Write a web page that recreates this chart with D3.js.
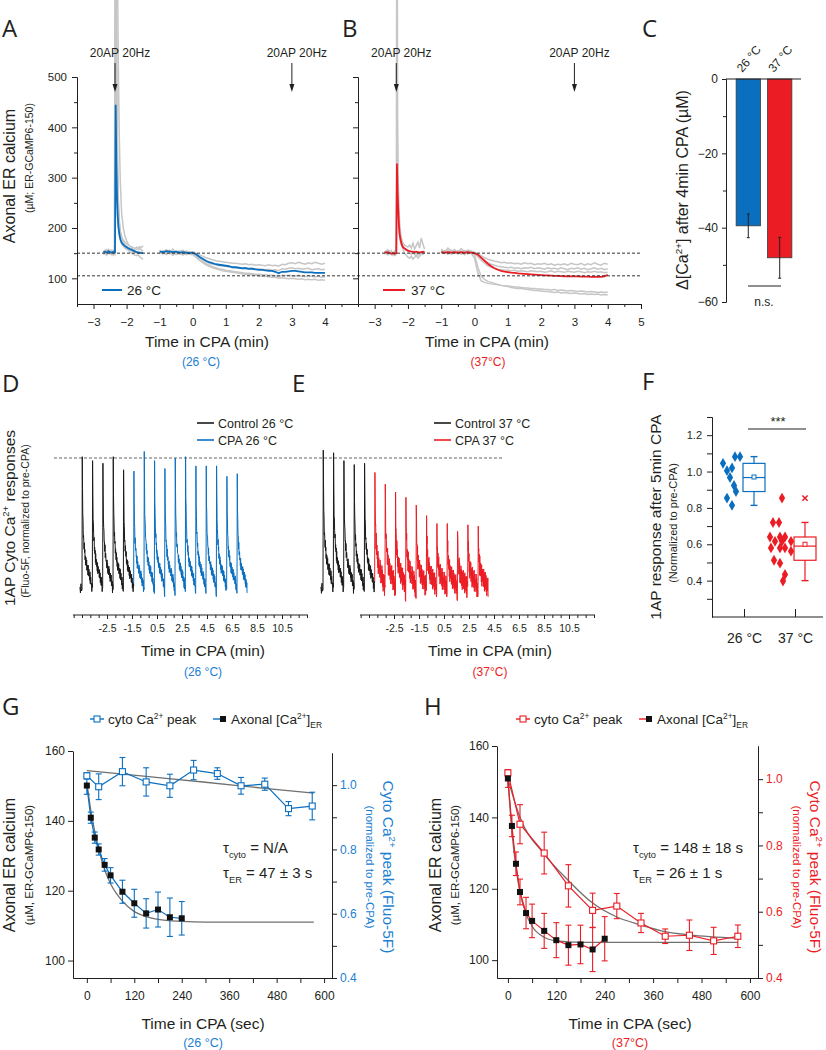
<!DOCTYPE html>
<html><head><meta charset="utf-8">
<script src="https://cdn.jsdelivr.net/npm/d3@7/dist/d3.min.js"></script>
<style>
html,body{margin:0;padding:0;background:#fff;}
svg{display:block;font-family:"Liberation Sans",Arial,sans-serif;}
</style></head>
<body><svg id="fig" width="826" height="1050" viewBox="0 0 826 1050"></svg>
<script>
// ===================== DATA =====================
// Panels A/B : time (min) samples
const abTimes1 = [-2.7,-2.65,-2.6,-2.55,-2.5,-2.45,-2.4,-2.37,-2.35,-2.33,-2.31,-2.29,-2.27,-2.25,-2.22,-2.19,-2.15,-2.1,-2.05,-2.0,-1.95,-1.9,-1.85,-1.8,-1.75,-1.7,-1.65,-1.6,-1.55,-1.5];
const abTimes2 = [-1,-0.9,-0.8,-0.7,-0.6,-0.5,-0.4,-0.3,-0.2,-0.1,0,0.1,0.2,0.3,0.4,0.5,0.6,0.7,0.8,0.9,1,1.1,1.2,1.3,1.4,1.5,1.6,1.7,1.8,1.9,2,2.1,2.2,2.3,2.4,2.5,2.6,2.7,2.8,2.9,3,3.1,3.2,3.3,3.4,3.5,3.6,3.7,3.8,3.9,4];
const abTickMajor = [-3,-2,-1,0,1,2,3,4];
const bTickMajor = [-3,-2,-1,0,1,2,3,4,5];
const abYTicks = [100,200,300,400,500];
const abDashLevels = [150,105];
const abStimTimes = [-2.35,3];
// Panel A (26 °C) mean and individual traces (µM)
const aMean1 = [152,153,151,154,152,151,153,152,152,445,330,262,225,205,188,178,171,167,164,162,160,158,157,155,154,152,151,151,150,150];
const aMean2 = [153,152,154,153,152,153,151,152,151,150,151,148,143,139,135,132,130,128,127,126,125,124,122,122,121,120,120,119,119,118,117,117,116,115,115,113,110,113,113,114,115,115,114,113,112,112,112,111,111,111,111];
const aGray1 = [
 [150,156,148,157,150,147,155,149,151,980,700,450,330,260,215,195,183,176,172,168,166,164,163,161,160,158,157,159,156,155],
 [154,149,155,150,156,152,149,154,700,900,610,400,300,240,210,192,180,172,166,160,156,152,150,148,146,145,147,143,140,138],
 [147,151,146,152,148,150,146,151,149,1300,1000,800,680,520,380,290,230,200,184,175,168,164,160,157,158,162,160,163,161,165],
 [155,152,157,153,154,156,151,156,154,560,360,280,230,200,186,176,168,164,160,158,156,155,154,153,152,151,153,150,152,151]
];
const aGray2 = [
 [156,150,157,152,158,151,155,149,154,152,153,150,147,144,141,139,137,135,134,133,132,131,130,130,129,128,129,127,128,126,127,126,125,127,125,126,124,128,127,130,131,129,132,130,128,131,129,132,130,128,130],
 [151,155,150,156,149,154,152,156,150,153,149,146,141,137,133,130,128,127,125,125,124,123,122,121,121,120,121,119,120,118,119,118,117,118,116,117,115,119,118,120,121,119,120,118,119,120,117,118,119,117,118],
 [149,153,147,151,146,152,148,150,147,149,148,144,138,133,129,126,123,121,119,118,116,115,114,113,112,111,110,110,109,108,108,107,107,106,106,105,103,106,105,106,105,104,106,104,103,105,104,103,104,102,103],
 [152,148,154,149,153,147,151,146,150,148,147,142,136,131,127,124,121,119,117,115,114,113,112,111,110,109,108,107,107,106,105,104,104,103,102,102,100,101,100,99,100,99,98,99,97,98,97,98,96,97,96]
];
// Panel B (37 °C)
const bMean1 = [152,151,152,150,149,150,149,150,150,328,270,235,205,188,176,168,162,159,157,155,154,153,153,152,153,152,151,152,153,152];
const bMean2 = [152,151,152,151,152,151,152,151,152,151,150,147,141,135,129,124,120,117,115,113.5,112.5,111.5,111,110,109.5,109,108.5,108,107.5,107,106.5,106,106,105.5,105,105,104.5,104,104.5,104,104,104,103.5,103.5,103.5,103,103,103.5,103,104,107];
const bGray1 = [
 [150,155,148,153,147,151,146,150,149,1100,420,290,240,210,190,178,170,166,164,162,166,160,170,158,165,172,160,180,168,158],
 [154,149,156,150,155,149,154,148,151,300,255,225,200,185,172,164,158,150,146,142,140,144,138,142,146,140,144,148,152,150],
 [148,152,147,154,150,146,152,147,150,340,290,250,215,195,180,170,164,160,156,153,150,148,152,147,150,146,149,152,148,150]
];
const bGray2 = [
 [158,152,160,154,157,151,159,153,156,154,152,149,145,141,138,136,134,133,131,132,130,131,129,130,128,131,129,130,127,129,128,130,127,129,126,128,127,129,126,130,128,127,130,126,129,127,131,128,126,130,128],
 [150,155,149,156,151,154,148,155,150,152,151,146,140,135,131,128,126,124,123,122,121,122,120,121,119,121,120,122,119,121,120,118,121,119,120,118,121,119,117,120,119,121,118,120,117,119,121,118,120,117,119],
 [155,150,153,148,154,149,152,147,153,150,149,143,136,130,125,122,120,118,117,116,116,115,116,114,115,114,113,115,114,113,114,112,113,115,112,114,113,112,114,113,112,114,113,111,113,112,114,112,113,111,112],
 [153,149,155,150,152,148,154,149,151,150,140,110,95,92,90,89,88,87,86,85,85,84,83,83,82,81,81,80,80,79,79,78,78,77,78,76,77,76,75,76,75,74,75,74,73,74,73,72,73,72,73],
 [150,154,148,153,149,155,150,152,148,153,146,122,104,98,94,92,90,88,86,85,84,82,81,80,80,79,78,77,76,76,75,74,74,73,72,73,71,72,71,70,71,70,69,70,68,69,68,69,67,68,67]
];
// Panel C
const cCats = ["26 °C","37 °C"];
const cValues = [-39.5,-48.1];
const cSem = [3.2,5.5];
const cTicks = [0,-20,-40,-60];
// Panels D/E : normalized 1AP peak amplitudes
const dAmpControl = [1.01,0.98,0.96,1.01,0.91];
const dAmpCPA = [0.90,1.05,0.98,0.92,1.00,1.01,0.94,0.94,0.94,0.86,0.88];
const eAmpControl = [1.06,1.04,0.98,0.95,0.96];
const eAmpCPA = [0.89,0.80,0.74,0.70,0.64,0.56,0.50,0.50,0.44,0.49,0.48];
// average transient shape (fraction of peak) over one inter-stimulus interval
const spikeProfile = [-0.02,1.0,0.72,0.58,0.49,0.43,0.39,0.36,0.33,0.31,0.29,0.27,0.25,0.235,0.22,0.21,0.2,0.19,0.18,0.17,0.165,0.16,0.15,0.145,0.14,0.13,0.125,0.12,0.11,0.1,0.095,0.09,0.08,0.07,0.06,0.05,0.04,0.03,0.01,0.0];
const traceNoise = [0.015,-0.03,0.04,-0.015,0.03,-0.04,0.015,0.0,-0.03,0.04,-0.015,0.03,-0.03,0.015,-0.04,0.03,0.0,-0.015,0.04,-0.03,0.015,-0.015,0.03,-0.04,0.04,-0.03,0.0,0.03,-0.015,0.015,-0.03,0.04,-0.04,0.015,0.03,-0.015,0.0];
const deTickLabels = ["-2.5","-1.5","0.5","2.5","4.5","6.5","8.5","10.5"];
// Panel F
const fCats = ["26 °C","37 °C"];
const f26Values = [1.045,1.005,1.02,0.967,0.923,0.89,0.854,0.814,1.082,1.082];
const f26Jitter = [-21,-17,-12,-14,-10,-8,-17,-12,-9,-4];
const f37Values = [0.854,0.72,0.72,0.64,0.64,0.64,0.616,0.616,0.616,0.58,0.58,0.58,0.562,0.512,0.496,0.434,0.398];
const f37Jitter = [-13,-22,-16,-25,-15,-10,-20,-13,-4,-24,-15,-10,-4,-21,-15,-10,-12];
const f26Box = [0.814,0.89,0.967,1.045,1.082];  // min,q1,median,q3,max
const f37Box = [0.40,0.512,0.59,0.64,0.72];
const fMeans = [0.97,0.60];
const f37Outliers = [0.854];
const fYTicks = [0.4,0.6,0.8,1.0,1.2];
// Panels G/H : time (s)
const ghErTimes = [0,10,20,30,45,60,90,120,150,180,210,240];
const ghCytoTimes = [0,30,90,150,210,270,330,390,450,510,570];
const gErValues = [150.1,140.9,135.2,131.8,127.4,124.4,119.7,116.4,113.5,114.6,112.4,112.1];
const gErSem = [2.5,1.6,1.6,1.6,1.8,2.2,3.3,4,4.2,5,5.5,4.8];
const gCytoValues = [1.029,0.995,1.042,1.01,0.998,1.047,1.036,0.998,1.003,0.927,0.935];
const gCytoSem = [0.01,0.04,0.044,0.044,0.036,0.03,0.018,0.026,0.019,0.022,0.043];
const hErValues = [150.9,137.6,127.0,119.1,113.2,111.0,108.2,105.6,104.2,104.4,103.0,106.0];
const hErSem = [2.5,3,3.3,3.6,4.4,4.7,4.9,4.9,5.6,5.4,6.2,6.2];
const hCytoValues = [1.019,0.864,0.777,0.678,0.604,0.617,0.566,0.526,0.529,0.512,0.526];
const hCytoSem = [0.01,0.059,0.063,0.064,0.052,0.038,0.029,0.022,0.046,0.041,0.034];
// fitted curves
const gErFitT = [0,10,20,30,45,60,90,120,150,180,240,300,400,574];
const gErFitV = [151,143,137,132,126,122,117,114,112.6,111.8,111.2,111,111,111];
const gCytoFitT = [0,150,300,450,574];
const gCytoFitV = [1.045,1.027,1.009,0.99,0.975];
const hErFitT = [0,10,20,30,45,60,90,120,180,240,400,570];
const hErFitV = [151,136,126,119,113,109.5,106.4,105.4,105,105,105,105];
const hCytoFitT = [0,30,90,150,210,270,330,390,450,570];
const hCytoFitV = [1.0,0.885,0.774,0.694,0.626,0.584,0.56,0.54,0.53,0.52];
const ghXTicks = [0,120,240,360,480,600];
const ghXMinor = [60,180,300,420,540];
const ghYLTicks = [100,120,140,160];
const ghYRTicks = [0.4,0.6,0.8,1.0];
const ghYRMinor = [0.5,0.7,0.9];

// ===================== DRAWING =====================
const svg = d3.select("#fig");
const BLUE = "#0b6fc0", BLUE_T = "#1b80d2", RED = "#ec1c24", GRAY = "#c6c6c6", INK = "#231f20", FIT = "#707070";
const FONT = '"Liberation Sans", Arial, sans-serif';
const LETTER_FONT = '"Open Sans", "Noto Sans", sans-serif';

function styleAxis(g, opt = {}) {
  g.attr("font-family", FONT);
  g.select(".domain").attr("stroke", INK).attr("stroke-width", 1);
  g.selectAll(".tick line").attr("stroke", INK).attr("stroke-width", 1);
  g.selectAll(".tick text").attr("fill", opt.color || INK).attr("font-size", opt.fs || 11.5).attr("font-family", FONT);
  if (opt.noDomain) g.select(".domain").remove();
  return g;
}
function addAxis(gen, tx, ty, opt) {
  return styleAxis(svg.append("g").attr("transform", `translate(${tx},${ty})`).call(gen), opt);
}
function txt(x, y, s, o = {}) {
  const t = svg.append("text").attr("x", x).attr("y", y).attr("font-family", o.font || FONT)
    .attr("font-size", o.fs || 12).attr("fill", o.color || INK).attr("text-anchor", o.anchor || "start");
  if (o.rot !== undefined) t.attr("transform", `rotate(${o.rot},${x},${y})`);
  if (o.parts) rich(t, o.parts, o.fs || 12); else t.text(s);
  return t;
}
function rich(t, parts, fs) {
  let shift = 0;
  parts.forEach(p => {
    const target = p.sup ? -fs * 0.38 : p.sub ? fs * 0.3 : 0;
    t.append("tspan").attr("dy", target - shift).attr("font-size", (p.sup || p.sub) ? fs * 0.62 : fs).text(p.t);
    shift = target;
  });
}
function letter(x, y, s) { txt(x, y, s, { fs: 24, font: LETTER_FONT }); }

// ---------- Panels A & B ----------
const xA = d3.scaleLinear().domain([-3.5, 5]).range([77, 358]);
const xB = d3.scaleLinear().domain([-3.5, 5]).range([358, 641]);
const yAB = d3.scaleLinear().domain([50, 500]).range([303.5, 77]);
const halfTicks = [-3.5,-2.5,-1.5,-0.5,0.5,1.5,2.5,3.5,4.5];
const yMinorAB = [150,250,350,450];

function drawTraces(x, grays1, grays2, mean1, mean2, col) {
  const line = d3.line().x(d => x(d[0])).y(d => yAB(d[1]));
  const g = svg.append("g");
  grays1.forEach(v => g.append("path").attr("d", line(d3.zip(abTimes1, v))).attr("fill", "none").attr("stroke", GRAY).attr("stroke-width", 1.5));
  grays2.forEach(v => g.append("path").attr("d", line(d3.zip(abTimes2, v))).attr("fill", "none").attr("stroke", GRAY).attr("stroke-width", 1.5));
  [mean1, mean2].forEach((v, i) => g.append("path").attr("d", line(d3.zip(i ? abTimes2 : abTimes1, v)))
    .attr("fill", "none").attr("stroke", col).attr("stroke-width", 1.8));
}
drawTraces(xA, aGray1, aGray2, aMean1, aMean2, BLUE);
drawTraces(xB, bGray1, bGray2, bMean1, bMean2, RED);

// dashed reference levels
abDashLevels.forEach(v => svg.append("line").attr("x1", xA(-3.5)).attr("x2", xB(5)).attr("y1", yAB(v)).attr("y2", yAB(v))
  .attr("stroke", "#333").attr("stroke-width", 1).attr("stroke-dasharray", "3,2"));

// axes A
addAxis(d3.axisLeft(yAB).tickValues(abYTicks).tickSize(5).tickPadding(5).tickSizeOuter(0), 77, 0);
addAxis(d3.axisLeft(yAB).tickValues(yMinorAB).tickSize(3).tickFormat("").tickSizeOuter(0), 77, 0);
addAxis(d3.axisBottom(xA).tickValues(abTickMajor).tickSize(5).tickPadding(9).tickFormat(d3.format("d")).tickSizeOuter(0), 0, 304);
addAxis(d3.axisBottom(xA).tickValues(halfTicks).tickSize(3).tickFormat("").tickSizeOuter(0), 0, 304);
// axes B
addAxis(d3.axisLeft(yAB).tickValues(abYTicks).tickSize(5).tickFormat("").tickSizeOuter(0), 358, 0);
addAxis(d3.axisLeft(yAB).tickValues(yMinorAB).tickSize(3).tickFormat("").tickSizeOuter(0), 358, 0);
addAxis(d3.axisBottom(xB).tickValues(bTickMajor).tickSize(5).tickPadding(9).tickFormat(d3.format("d")).tickSizeOuter(0), 0, 304);
addAxis(d3.axisBottom(xB).tickValues(halfTicks).tickSize(3).tickFormat("").tickSizeOuter(0), 0, 304);

// stimulation arrows
[xA, xB].forEach(x => abStimTimes.forEach(t => {
  const px = x(t);
  svg.append("line").attr("x1", px).attr("x2", px).attr("y1", 63).attr("y2", 85).attr("stroke", INK).attr("stroke-width", 1);
  svg.append("path").attr("d", `M${px - 2.5},84 L${px + 2.5},84 L${px},92 Z`).attr("fill", INK);
  txt(px + 5, 57, "20AP 20Hz", { fs: 12, anchor: "middle" });
}));

// legends A/B
svg.append("line").attr("x1", 102).attr("x2", 122).attr("y1", 290).attr("y2", 290).attr("stroke", BLUE).attr("stroke-width", 2);
txt(127, 295, "26 °C", { fs: 13.5 });
svg.append("line").attr("x1", 383).attr("x2", 405).attr("y1", 290).attr("y2", 290).attr("stroke", RED).attr("stroke-width", 2);
txt(411, 295, "37 °C", { fs: 13.5 });

// titles A/B
txt(15, 176, "Axonal ER calcium", { fs: 16, rot: -90, anchor: "middle" });
txt(33, 158, "(µM; ER-GCaMP6-150)", { fs: 10.5, rot: -90, anchor: "middle" });
txt(207, 347, "Time in CPA (min)", { fs: 15.5, anchor: "middle" });
txt(201, 366, "(26 °C)", { fs: 12, anchor: "middle", color: BLUE_T });
txt(487, 347, "Time in CPA (min)", { fs: 15.5, anchor: "middle" });
txt(488, 366, "(37°C)", { fs: 12, anchor: "middle", color: RED });
letter(2, 37, "A");
letter(342, 37, "B");

// ---------- Panel C ----------
const yC = d3.scaleLinear().domain([-60, 0]).range([302, 79]);
const xC = d3.scaleBand().domain(cCats).range([733, 795]).paddingInner(0.226).paddingOuter(0.1);
const cColors = [BLUE, RED];
cCats.forEach((c, i) => {
  svg.append("rect").attr("x", xC(c)).attr("y", yC(0)).attr("width", xC.bandwidth()).attr("height", yC(cValues[i]) - yC(0))
    .attr("fill", cColors[i]).attr("stroke", "#3a3a3a").attr("stroke-width", 0.8);
  const cx = xC(c) + xC.bandwidth() / 2;
  svg.append("line").attr("x1", cx).attr("x2", cx).attr("y1", yC(cValues[i] + cSem[i])).attr("y2", yC(cValues[i] - cSem[i])).attr("stroke", INK).attr("stroke-width", 1);
  [cValues[i] + cSem[i], cValues[i] - cSem[i]].forEach(v => svg.append("line").attr("x1", cx - 1.5).attr("x2", cx + 1.5).attr("y1", yC(v)).attr("y2", yC(v)).attr("stroke", INK));
  txt(cx - 6, 73, c, { fs: 12, rot: -50 });
});
addAxis(d3.axisLeft(yC).tickValues(cTicks).tickSize(4).tickPadding(4).tickSizeOuter(0), 726, 0, { fs: 12 });
addAxis(d3.axisLeft(yC).tickValues([-10, -30, -50]).tickSize(3).tickFormat("").tickSizeOuter(0), 726, 0);
svg.append("line").attr("x1", 726).attr("x2", 801).attr("y1", yC(0)).attr("y2", yC(0)).attr("stroke", INK).attr("stroke-width", 1);
svg.append("line").attr("x1", 748).attr("x2", 781).attr("y1", 286).attr("y2", 286).attr("stroke", INK).attr("stroke-width", 1);
txt(764, 306, "n.s.", { fs: 12, anchor: "middle" });
txt(688, 190, "", { fs: 16, rot: -90, anchor: "middle", parts: [{ t: "Δ[Ca" }, { t: "2+", sup: true }, { t: "] after 4min CPA (µM)" }] });
letter(642, 37, "C");

// ---------- Panels D & E ----------
const yDE = d3.scaleLinear().domain([0, 1]).range([589, 458]);
function spikePoints(amps, gains) {
  const pts = [];
  [-0.2, -0.15, -0.1, -0.05].forEach((t, j) => pts.push([t, traceNoise[j] * gains[0]]));
  const n = spikeProfile.length;
  amps.forEach((a, k) => spikeProfile.forEach((p, j) => {
    const nz = j === 1 ? 0 : traceNoise[(k * 11 + j) % traceNoise.length] * gains[k];
    pts.push([k + j / n, a * p + nz]);
  }));
  return pts;
}
function drawSpikes(xs, ctrl, cpa, gainCtrl, gainCpa, col) {
  const amps = ctrl.concat(cpa);
  const gains = amps.map((a, k) => k < ctrl.length ? gainCtrl : gainCpa);
  const pts = spikePoints(amps, gains);
  const line = d3.line().x(d => xs(d[0])).y(d => yDE(d[1]));
  const nC = ctrl.length;
  svg.append("path").attr("d", line(pts.filter(d => d[0] >= nC))).attr("fill", "none").attr("stroke", col).attr("stroke-width", 1).attr("stroke-linejoin", "round");
  svg.append("path").attr("d", line(pts.filter(d => d[0] <= nC))).attr("fill", "none").attr("stroke", "#1a1a1a").attr("stroke-width", 1).attr("stroke-linejoin", "round");
}
const xDs = d3.scaleLinear().domain([0, 15]).range([82, 237]);
const xEs = d3.scaleLinear().domain([0, 15]).range([323, 478]);
svg.append("line").attr("x1", 54).attr("x2", 502).attr("y1", yDE(1)).attr("y2", yDE(1)).attr("stroke", "#666").attr("stroke-width", 1).attr("stroke-dasharray", "3,2");
drawSpikes(xDs, dAmpControl, dAmpCPA, 1, 1, BLUE);
drawSpikes(xEs, eAmpControl, eAmpCPA, 1.1, 2, RED);

function deAxis(x0) {
  const xl = d3.scalePoint().domain(deTickLabels).range([x0, x0 + 175]);
  const xi = d3.scaleLinear().domain([0, 7]).range([x0, x0 + 175]);
  const minor = d3.range(-4, 25).map(k => k / 3);
  const g1 = svg.append("g").attr("transform", "translate(0,615)").call(d3.axisBottom(xi).tickValues(minor).tickSize(3).tickFormat("").tickSizeOuter(0));
  styleAxis(g1);
  g1.select(".domain").attr("d", `M${xi(-1.36)},0H${xi(8.04)}`);
  addAxis(d3.axisBottom(xl).tickSize(4).tickPadding(6).tickSizeOuter(0), 0, 615, { fs: 10.5, noDomain: true });
}
deAxis(107);
deAxis(394);
txt(203, 656, "Time in CPA (min)", { fs: 15.5, anchor: "middle" });
txt(203, 676, "(26 °C)", { fs: 12, anchor: "middle", color: BLUE_T });
txt(490, 656, "Time in CPA (min)", { fs: 15.5, anchor: "middle" });
txt(490, 676, "(37°C)", { fs: 12, anchor: "middle", color: RED });
txt(15, 518, "", { fs: 15.5, rot: -90, anchor: "middle", parts: [{ t: "1AP Cyto Ca" }, { t: "2+", sup: true }, { t: " responses" }] });
txt(29, 521, "(Fluo-5F, normalized to pre-CPA)", { fs: 10.5, rot: -90, anchor: "middle" });
// legends D/E
[[197, "Control 26 °C", "CPA 26 °C", BLUE], [434, "Control 37 °C", "CPA 37 °C", RED]].forEach(([x, a, b, col]) => {
  svg.append("line").attr("x1", x).attr("x2", x + 17).attr("y1", 423).attr("y2", 423).attr("stroke", "#1a1a1a").attr("stroke-width", 1.6);
  txt(x + 21, 427.5, a, { fs: 12.5 });
  svg.append("line").attr("x1", x).attr("x2", x + 17).attr("y1", 440).attr("y2", 440).attr("stroke", col).attr("stroke-width", 1.6);
  txt(x + 21, 444.5, b, { fs: 12.5 });
});
letter(2, 392, "D");
letter(292, 392, "E");

// ---------- Panel F ----------
const yF = d3.scaleLinear().domain([0.2, 1.3]).range([617, 417]);
const xF = d3.scalePoint().domain(fCats).range([744, 795]);
addAxis(d3.axisLeft(yF).tickValues(fYTicks).tickSize(5).tickPadding(5).tickFormat(d3.format(".1f")).tickSizeOuter(0), 712, 0, { fs: 11 });
addAxis(d3.axisLeft(yF).tickValues([0.3, 0.5, 0.7, 0.9, 1.1, 1.3]).tickSize(5).tickFormat("").tickSizeOuter(0), 712, 0);
{
  const g = addAxis(d3.axisBottom(xF).tickSize(-8).tickPadding(16).tickSizeOuter(0), 0, 617, { fs: 14 });
  g.select(".domain").attr("d", "M712,0H823");
}
const diamond = d3.symbol().type(d3.symbolDiamond).size(34);
function fGroup(cat, vals, jit, box, mean, col, outliers) {
  const cx = xF(cat);
  vals.forEach((v, i) => svg.append("path").attr("d", diamond()).attr("transform", `translate(${cx + jit[i]},${yF(v)})`).attr("fill", col));
  const bx = cx + 10, hw = 11;
  svg.append("rect").attr("x", bx - hw).attr("y", yF(box[3])).attr("width", 2 * hw).attr("height", yF(box[1]) - yF(box[3]))
    .attr("fill", "none").attr("stroke", col).attr("stroke-width", 1.2);
  svg.append("line").attr("x1", bx - hw).attr("x2", bx + hw).attr("y1", yF(box[2])).attr("y2", yF(box[2])).attr("stroke", col).attr("stroke-width", 1.2);
  svg.append("line").attr("x1", bx).attr("x2", bx).attr("y1", yF(box[3])).attr("y2", yF(box[4])).attr("stroke", col).attr("stroke-width", 1.2);
  svg.append("line").attr("x1", bx).attr("x2", bx).attr("y1", yF(box[1])).attr("y2", yF(box[0])).attr("stroke", col).attr("stroke-width", 1.2);
  [box[0], box[4]].forEach(v => svg.append("line").attr("x1", bx - 3.5).attr("x2", bx + 3.5).attr("y1", yF(v)).attr("y2", yF(v)).attr("stroke", col).attr("stroke-width", 1.4));
  svg.append("rect").attr("x", bx - 2).attr("y", yF(mean) - 2).attr("width", 4).attr("height", 4).attr("fill", "#fff").attr("stroke", col).attr("stroke-width", 1);
  (outliers || []).forEach(v => svg.append("path").attr("d", d3.symbol().type(d3.symbolX).size(20)()).attr("transform", `translate(${bx},${yF(v)})`).attr("stroke", col).attr("stroke-width", 1.5));
}
fGroup(fCats[0], f26Values, f26Jitter, f26Box, fMeans[0], BLUE, []);
fGroup(fCats[1], f37Values, f37Jitter, f37Box, fMeans[1], RED, f37Outliers);
svg.append("line").attr("x1", 748).attr("x2", 806).attr("y1", 429).attr("y2", 429).attr("stroke", INK).attr("stroke-width", 1);
txt(778, 426, "***", { fs: 13, anchor: "middle" });
txt(661, 517, "1AP response after 5min CPA", { fs: 15.5, rot: -90, anchor: "middle" });
txt(677, 523, "(Normalized to pre-CPA)", { fs: 11, rot: -90, anchor: "middle" });
letter(642, 390, "F");

// ---------- Panels G & H ----------
function ghPanel(o) {
  const x = d3.scaleLinear().domain(o.xDom).range([o.x0, o.x1]);
  const yL = d3.scaleLinear().domain([95, 160]).range([978, o.yTop]);
  const yR = d3.scaleLinear().domain([0.4, 1.1]).range([978, o.yTopR]);
  const col = o.col;
  const lineL = d3.line().x(d => x(d[0])).y(d => yL(d[1]));
  const lineR = d3.line().x(d => x(d[0])).y(d => yR(d[1]));
  const fitL = d3.line().curve(d3.curveMonotoneX).x(d => x(d[0])).y(d => yL(d[1]));
  const fitR = d3.line().curve(d3.curveMonotoneX).x(d => x(d[0])).y(d => yR(d[1]));
  // axes
  addAxis(d3.axisLeft(yL).tickValues(ghYLTicks).tickSize(5).tickPadding(3).tickSizeOuter(0), o.x0, 0, { fs: 12 });
  addAxis(d3.axisRight(yR).tickValues(ghYRTicks).tickSize(5).tickPadding(3).tickFormat(d3.format(".1f")).tickSizeOuter(0), o.x1, 0, { fs: 12, color: o.tcol });
  addAxis(d3.axisRight(yR).tickValues(ghYRMinor).tickSize(5).tickFormat("").tickSizeOuter(0), o.x1, 0);
  addAxis(d3.axisBottom(x).tickValues(ghXTicks).tickSize(5).tickPadding(8).tickSizeOuter(0), 0, 978, { fs: 12 });
  addAxis(d3.axisBottom(x).tickValues(ghXMinor).tickSize(5).tickFormat("").tickSizeOuter(0), 0, 978);
  // fits
  svg.append("path").attr("d", fitR(d3.zip(o.cyFitT, o.cyFitV))).attr("fill", "none").attr("stroke", FIT).attr("stroke-width", 1.3);
  svg.append("path").attr("d", fitL(d3.zip(o.erFitT, o.erFitV))).attr("fill", "none").attr("stroke", FIT).attr("stroke-width", 1.3);
  // data lines
  svg.append("path").attr("d", lineR(d3.zip(ghCytoTimes, o.cyV))).attr("fill", "none").attr("stroke", col).attr("stroke-width", 1.2);
  svg.append("path").attr("d", lineL(d3.zip(ghErTimes, o.erV))).attr("fill", "none").attr("stroke", col).attr("stroke-width", 1.2);
  // error bars
  function ebar(px, y1, y2) {
    svg.append("line").attr("x1", px).attr("x2", px).attr("y1", y1).attr("y2", y2).attr("stroke", col).attr("stroke-width", 1.1);
    [y1, y2].forEach(yy => svg.append("line").attr("x1", px - 3).attr("x2", px + 3).attr("y1", yy).attr("y2", yy).attr("stroke", col).attr("stroke-width", 1.1));
  }
  ghCytoTimes.forEach((t, i) => ebar(x(t), yR(o.cyV[i] + o.cyE[i]), yR(o.cyV[i] - o.cyE[i])));
  ghErTimes.forEach((t, i) => ebar(x(t), yL(o.erV[i] + o.erE[i]), yL(o.erV[i] - o.erE[i])));
  // markers
  ghCytoTimes.forEach((t, i) => svg.append("rect").attr("x", x(t) - 3).attr("y", yR(o.cyV[i]) - 3).attr("width", 6).attr("height", 6)
    .attr("fill", "#fff").attr("stroke", col).attr("stroke-width", 1.1));
  ghErTimes.forEach((t, i) => svg.append("rect").attr("x", x(t) - 3).attr("y", yL(o.erV[i]) - 3).attr("width", 6).attr("height", 6).attr("fill", "#111"));
  // legend
  const lx = o.legX;
  svg.append("line").attr("x1", lx).attr("x2", lx + 14).attr("y1", 719).attr("y2", 719).attr("stroke", col).attr("stroke-width", 1.4);
  svg.append("rect").attr("x", lx + 4).attr("y", 716).attr("width", 6).attr("height", 6).attr("fill", "#fff").attr("stroke", col).attr("stroke-width", 1.1);
  txt(lx + 18, 724, "", { fs: 13.5, parts: [{ t: "cyto Ca" }, { t: "2+", sup: true }, { t: " peak" }] });
  const lx2 = o.legX2;
  svg.append("line").attr("x1", lx2).attr("x2", lx2 + 13).attr("y1", 719).attr("y2", 719).attr("stroke", col).attr("stroke-width", 1.4);
  svg.append("rect").attr("x", lx2 + 7).attr("y", 716).attr("width", 6).attr("height", 6).attr("fill", "#111");
  txt(lx2 + 18, 724, "", { fs: 13.5, parts: [{ t: "Axonal [Ca" }, { t: "2+", sup: true }, { t: "]" }, { t: "ER", sub: true }] });
  // annotations
  txt(o.annX, 853, "", { fs: 15, parts: [{ t: "τ" }, { t: "cyto", sub: true }, { t: " = " + o.tauCyto }] });
  txt(o.annX, 878, "", { fs: 15, parts: [{ t: "τ" }, { t: "ER", sub: true }, { t: " = " + o.tauEr }] });
  // axis titles
  txt(o.lTitleX, 865, "Axonal ER calcium", { fs: 16, rot: -90, anchor: "middle" });
  txt(o.lTitleX + 18, 865, "(µM, ER-GCaMP6-150)", { fs: 11.5, rot: -90, anchor: "middle" });
  txt(o.rTitleX, 867, "", { fs: 15.5, rot: 90, anchor: "middle", color: o.tcol, parts: [{ t: "Cyto Ca" }, { t: "2+", sup: true }, { t: " peak (Fluo-5F)" }] });
  txt(o.rTitleX - 17, 867, "(normalized to pre-CPA)", { fs: 11.5, rot: 90, anchor: "middle", color: o.tcol });
  txt(o.xTitleX, 1029, "Time in CPA (sec)", { fs: 15.5, anchor: "middle" });
  txt(o.xTitleX, 1047, o.tempLabel, { fs: 12.5, anchor: "middle", color: o.tcol });
}
ghPanel({ x0: 73, x1: 332, xDom: [-35, 620], yTop: 751, yTopR: 753, col: BLUE, tcol: BLUE_T,
  erV: gErValues, erE: gErSem, cyV: gCytoValues, cyE: gCytoSem,
  erFitT: gErFitT, erFitV: gErFitV, cyFitT: gCytoFitT, cyFitV: gCytoFitV,
  legX: 90, legX2: 213, annX: 223, tauCyto: "N/A", tauEr: "47 ± 3 s",
  lTitleX: 15, rTitleX: 383, xTitleX: 203, tempLabel: "(26 °C)" });
ghPanel({ x0: 497, x1: 758, xDom: [-27, 620], yTop: 746, yTopR: 746, col: RED, tcol: RED,
  erV: hErValues, erE: hErSem, cyV: hCytoValues, cyE: hCytoSem,
  erFitT: hErFitT, erFitV: hErFitV, cyFitT: hCytoFitT, cyFitV: hCytoFitV,
  legX: 516, legX2: 639, annX: 633, tauCyto: "148 ± 18 s", tauEr: "26 ± 1 s",
  lTitleX: 441, rTitleX: 810, xTitleX: 630, tempLabel: "(37°C)" });
letter(2, 715, "G");
letter(424, 715, "H");
</script></body></html>
